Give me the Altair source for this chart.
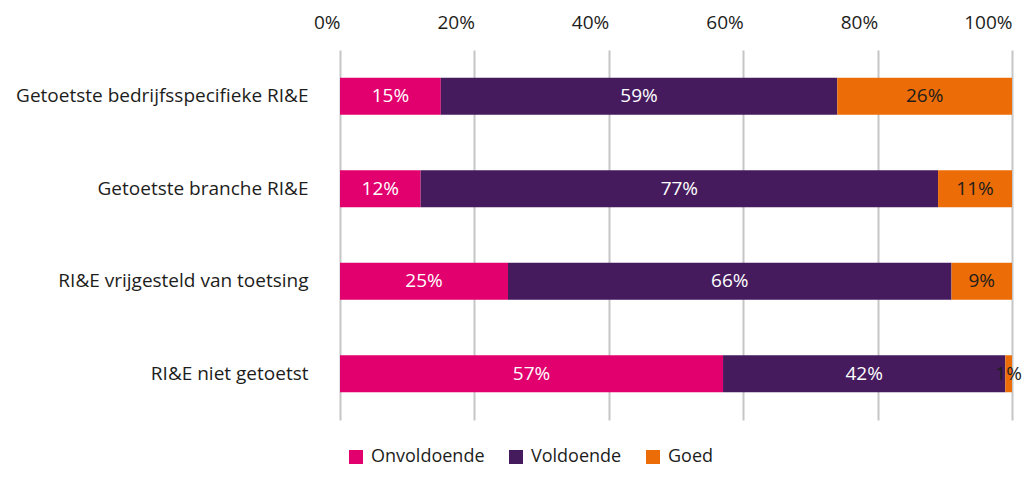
import altair as alt
import pandas as pd

categories = [
    "Getoetste bedrijfsspecifieke RI&E",
    "Getoetste branche RI&E",
    "RI&E vrijgesteld van toetsing",
    "RI&E niet getoetst",
]
ratings = ["Onvoldoende", "Voldoende", "Goed"]
onvoldoende = [15, 12, 25, 57]
voldoende = [59, 77, 66, 42]
goed = [26, 11, 9, 1]
colors = ["#E2006E", "#461B5E", "#EC6C07"]
text_colors = ["white", "white", "#1d1d1b"]
x_ticks = [0, 20, 40, 60, 80, 100]

rows = []
for i, c in enumerate(categories):
    for j, (r, vals) in enumerate(zip(ratings, [onvoldoende, voldoende, goed])):
        rows.append({"cat": c, "rating": r, "value": vals[i], "ord": j,
                     "tc": text_colors[j], "label": f"{vals[i]}%"})
df = pd.DataFrame(rows)

FONT = "Open Sans"
FS = 19

base = alt.Chart(df).transform_stack(
    stack="value", as_=["v0", "v1"], groupby=["cat"],
    sort=[alt.SortField("ord", order="ascending")]
).transform_calculate(mid="(datum.v0 + datum.v1) / 2")

y_enc = alt.Y("cat:N", sort=categories,
              scale=alt.Scale(paddingInner=0.6, paddingOuter=0.3),
              axis=alt.Axis(title=None, domain=False, ticks=False, tickSize=0,
                            labelPadding=32, labelFontSize=FS, labelFont=FONT,
                            labelColor="#1d1d1b", labelLimit=400))

bars = base.mark_bar().encode(
    x=alt.X("v0:Q", scale=alt.Scale(domain=[0, 100], nice=False),
            axis=alt.Axis(orient="top", title=None, values=x_ticks,
                          labelExpr="datum.value + '%'", domain=False,
                          ticks=False, tickSize=0, labelPadding=18,
                          labelAlign="right", labelFontSize=FS, labelFont=FONT,
                          labelColor="#1d1d1b", grid=True, gridColor="#c6c6c6",
                          gridWidth=2)),
    x2="v1:Q",
    y=y_enc,
    color=alt.Color("rating:N", sort=ratings,
                    scale=alt.Scale(domain=ratings, range=colors),
                    legend=alt.Legend(title=None, orient="none", direction="horizontal",
                                      legendX=7, legendY=398, symbolType="square",
                                      symbolSize=196, symbolStrokeWidth=0,
                                      labelFontSize=18, labelFont=FONT,
                                      labelColor="#1d1d1b", labelOffset=6,
                                      columnPadding=22)),
)

text = base.mark_text(fontSize=FS, font=FONT).encode(
    x=alt.X("mid:Q"),
    y=alt.Y("cat:N", sort=categories),
    text="label:N",
    color=alt.Color("tc:N", scale=None),
)

chart = alt.layer(bars, text).properties(
    width=672, height=370,
    autosize=alt.AutoSizeParams(type="none"),
    padding={"left": 332, "top": 42, "right": 13, "bottom": 50},
).configure_view(stroke=None)

chart.save("out.html", embed_options={"renderer": "svg", "actions": False})
